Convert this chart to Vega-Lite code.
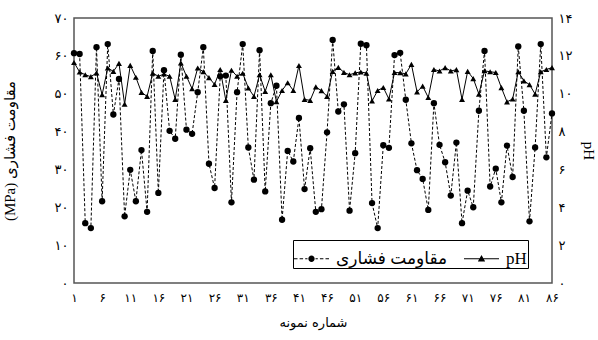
{
  "$schema": "https://vega.github.io/schema/vega-lite/v6.json",
  "width": 478,
  "height": 265,
  "autosize": {"type": "none"},
  "padding": {"left": 74, "top": 18, "right": 46, "bottom": 57},
  "background": "white",
  "config": {
    "view": {"stroke": "#555555", "strokeWidth": 1.5},
    "font": "Liberation Serif, DejaVu Sans",
    "axis": {
      "grid": false, "ticks": false, "domain": false, "labelOverlap": false,
      "labelColor": "black", "titleColor": "black",
      "labelFont": "DejaVu Sans", "labelFontSize": 12,
      "titleFont": "Liberation Serif, DejaVu Sans", "titleFontSize": 15, "titleFontWeight": "normal"
    },
    "axisY": {"labelOverlap": false, "labelFontSize": 13, "labelPadding": 6},
    "axisLeft": {"titlePadding": 37},
    "axisRight": {"titlePadding": 9}
  },
  "data": {"values": [
    {"sample":1,"strength":60.7,"ph":11.65},{"sample":2,"strength":60.5,"ph":11.15},{"sample":3,"strength":15.8,"ph":11.0},
    {"sample":4,"strength":14.5,"ph":10.9},{"sample":5,"strength":62.3,"ph":11.1},{"sample":6,"strength":21.6,"ph":9.95},
    {"sample":7,"strength":63.1,"ph":11.36},{"sample":8,"strength":44.5,"ph":11.18},{"sample":9,"strength":53.9,"ph":11.6},
    {"sample":10,"strength":17.6,"ph":9.45},{"sample":11,"strength":29.9,"ph":11.5},{"sample":12,"strength":21.6,"ph":10.87},
    {"sample":13,"strength":35.1,"ph":10.07},{"sample":14,"strength":18.8,"ph":9.86},{"sample":15,"strength":61.3,"ph":11.09},
    {"sample":16,"strength":23.8,"ph":10.92},{"sample":17,"strength":56.2,"ph":11.04},{"sample":18,"strength":40.2,"ph":10.92},
    {"sample":19,"strength":38.1,"ph":9.7},{"sample":20,"strength":60.3,"ph":11.63},{"sample":21,"strength":40.5,"ph":10.92},
    {"sample":22,"strength":39.4,"ph":10.26},{"sample":23,"strength":50.4,"ph":11.36},{"sample":24,"strength":62.3,"ph":11.16},
    {"sample":25,"strength":31.5,"ph":10.85},{"sample":26,"strength":25.1,"ph":10.49},{"sample":27,"strength":54.6,"ph":11.28},
    {"sample":28,"strength":54.8,"ph":9.65},{"sample":29,"strength":21.3,"ph":11.24},{"sample":30,"strength":50.4,"ph":10.92},
    {"sample":31,"strength":63.1,"ph":11.08},{"sample":32,"strength":35.8,"ph":10.3},{"sample":33,"strength":27.3,"ph":9.86},
    {"sample":34,"strength":61.5,"ph":11.0},{"sample":35,"strength":24.2,"ph":10.12},{"sample":36,"strength":47.5,"ph":11.0},
    {"sample":37,"strength":52.1,"ph":9.58},{"sample":38,"strength":16.7,"ph":10.17},{"sample":39,"strength":34.9,"ph":10.58},
    {"sample":40,"strength":32.1,"ph":10.17},{"sample":41,"strength":43.6,"ph":11.49},{"sample":42,"strength":24.8,"ph":9.7},
    {"sample":43,"strength":35.6,"ph":9.65},{"sample":44,"strength":18.8,"ph":10.36},{"sample":45,"strength":19.5,"ph":10.16},
    {"sample":46,"strength":39.8,"ph":9.86},{"sample":47,"strength":64.2,"ph":11.18},{"sample":48,"strength":45.3,"ph":11.39},
    {"sample":49,"strength":47.2,"ph":11.13},{"sample":50,"strength":19.1,"ph":11.0},{"sample":51,"strength":34.3,"ph":11.1},
    {"sample":52,"strength":63.2,"ph":11.15},{"sample":53,"strength":62.8,"ph":11.09},{"sample":54,"strength":21.1,"ph":9.62},
    {"sample":55,"strength":14.5,"ph":10.17},{"sample":56,"strength":36.4,"ph":10.33},{"sample":57,"strength":35.7,"ph":9.72},
    {"sample":58,"strength":60.2,"ph":11.12},{"sample":59,"strength":60.8,"ph":11.11},{"sample":60,"strength":48.4,"ph":11.05},
    {"sample":61,"strength":36.9,"ph":11.55},{"sample":62,"strength":29.8,"ph":10.1},{"sample":63,"strength":27.5,"ph":10.4},
    {"sample":64,"strength":19.3,"ph":9.8},{"sample":65,"strength":47.5,"ph":11.28},{"sample":66,"strength":36.5,"ph":11.2},
    {"sample":67,"strength":31.9,"ph":11.38},{"sample":68,"strength":23.1,"ph":11.2},{"sample":69,"strength":37.1,"ph":11.27},
    {"sample":70,"strength":15.8,"ph":9.7},{"sample":71,"strength":24.4,"ph":11.18},{"sample":72,"strength":20.0,"ph":10.8},
    {"sample":73,"strength":45.5,"ph":9.98},{"sample":74,"strength":61.3,"ph":11.21},{"sample":75,"strength":25.5,"ph":11.16},
    {"sample":76,"strength":30.2,"ph":11.12},{"sample":77,"strength":21.3,"ph":10.32},{"sample":78,"strength":36.3,"ph":9.57},
    {"sample":79,"strength":28.0,"ph":9.72},{"sample":80,"strength":62.5,"ph":11.16},{"sample":81,"strength":45.5,"ph":10.68},
    {"sample":82,"strength":16.3,"ph":10.48},{"sample":83,"strength":35.8,"ph":9.98},{"sample":84,"strength":63.1,"ph":11.16},
    {"sample":85,"strength":33.2,"ph":11.28},{"sample":86,"strength":44.8,"ph":11.38}
  ]},
  "encoding": {
    "x": {
      "field": "sample", "type": "quantitative",
      "scale": {"domain": [1, 86], "nice": false, "zero": false},
      "axis": {
        "values": [1,6,11,16,21,26,31,36,41,46,51,56,61,66,71,76,81,86],
        "title": "شماره نمونه",
        "titleFont": "DejaVu Sans", "titleFontSize": 13,
        "labelPadding": 9, "titlePadding": 13, "labelFlush": false, "labelOverlap": false,
        "labelExpr": "replace(replace(replace(replace(replace(replace(replace(replace(replace(replace(datum.label,regexp('0','g'),'۰'),regexp('1','g'),'۱'),regexp('2','g'),'۲'),regexp('3','g'),'۳'),regexp('4','g'),'۴'),regexp('5','g'),'۵'),regexp('6','g'),'۶'),regexp('7','g'),'۷'),regexp('8','g'),'۸'),regexp('9','g'),'۹')"
      }
    }
  },
  "layer": [
    {
      "encoding": {
        "y": {
          "field": "strength", "type": "quantitative",
          "scale": {"domain": [0, 70], "nice": false},
          "axis": {
            "orient": "left", "values": [0,10,20,30,40,50,60,70], "tickCount": 8,
            "title": "(MPa) مقاومت فشاری",
            "labelPadding": 6, "titlePadding": 37, "labelFontSize": 13, "labelOverlap": false,
            "labelExpr": "replace(replace(replace(replace(replace(replace(replace(replace(replace(replace(datum.label,regexp('0','g'),'۰'),regexp('1','g'),'۱'),regexp('2','g'),'۲'),regexp('3','g'),'۳'),regexp('4','g'),'۴'),regexp('5','g'),'۵'),regexp('6','g'),'۶'),regexp('7','g'),'۷'),regexp('8','g'),'۸'),regexp('9','g'),'۹')"
          }
        }
      },
      "layer": [
        {
          "mark": {"type": "line", "color": "black", "strokeWidth": 1, "strokeDash": [3, 2]}
        },
        {
          "mark": {"type": "point", "shape": "circle", "filled": true, "color": "black", "size": 40, "opacity": 1}
        },
        {
          "mark": {"type": "point", "fill": "black", "stroke": "black", "strokeWidth": 1, "opacity": 0},
          "encoding": {
            "shape": {
              "datum": "مقاومت فشاری", "type": "nominal",
              "scale": {
                "domain": ["مقاومت فشاری", "pH"],
                "range": [
                  "M-1,-0.03H-0.8V0.03H-1ZM-0.68,-0.03H-0.48V0.03H-0.68ZM-0.36,-0.03H-0.23V0.03H-0.36ZM0.23,-0.03H0.36V0.03H0.23ZM0.48,-0.03H0.68V0.03H0.48ZM0.8,-0.03H1V0.03H0.8ZM-0.18,0A0.18,0.18 0 1,1 0.18,0A0.18,0.18 0 1,1 -0.18,0Z",
                  "M-1,-0.03H1V0.03H-1ZM0,-0.21L0.21,0.15L-0.21,0.15Z"
                ]
              },
              "legend": {
                "title": null, "orient": "none", "legendX": 219, "legendY": 222,
                "direction": "horizontal", "strokeColor": "black", "fillColor": "white",
                "padding": 1, "symbolSize": 1225, "symbolStrokeWidth": 0,
                "symbolOpacity": 1, "symbolFillColor": "black", "symbolStrokeColor": "black",
                "labelFont": "Liberation Serif, DejaVu Sans", "labelFontSize": 17, "labelColor": "black",
                "labelOffset": 7, "columnPadding": 16
              }
            }
          }
        }
      ]
    },
    {
      "encoding": {
        "y": {
          "field": "ph", "type": "quantitative",
          "scale": {"domain": [0, 14], "nice": false},
          "axis": {
            "orient": "right", "values": [0,2,4,6,8,10,12,14], "tickCount": 8,
            "title": "pH",
            "labelPadding": 6, "titlePadding": 9, "labelFontSize": 13, "labelOverlap": false,
            "labelExpr": "replace(replace(replace(replace(replace(replace(replace(replace(replace(replace(datum.label,regexp('0','g'),'۰'),regexp('1','g'),'۱'),regexp('2','g'),'۲'),regexp('3','g'),'۳'),regexp('4','g'),'۴'),regexp('5','g'),'۵'),regexp('6','g'),'۶'),regexp('7','g'),'۷'),regexp('8','g'),'۸'),regexp('9','g'),'۹')"
          }
        }
      },
      "layer": [
        {
          "mark": {"type": "line", "color": "black", "strokeWidth": 1}
        },
        {
          "mark": {"type": "point", "shape": "triangle-up", "filled": true, "color": "black", "size": 35, "opacity": 1}
        },
        {
          "mark": {"type": "point", "fill": "black", "stroke": "black", "strokeWidth": 1, "opacity": 0},
          "encoding": {
            "shape": {"datum": "pH", "type": "nominal"}
          }
        }
      ]
    }
  ],
  "resolve": {"scale": {"y": "independent"}}
}
